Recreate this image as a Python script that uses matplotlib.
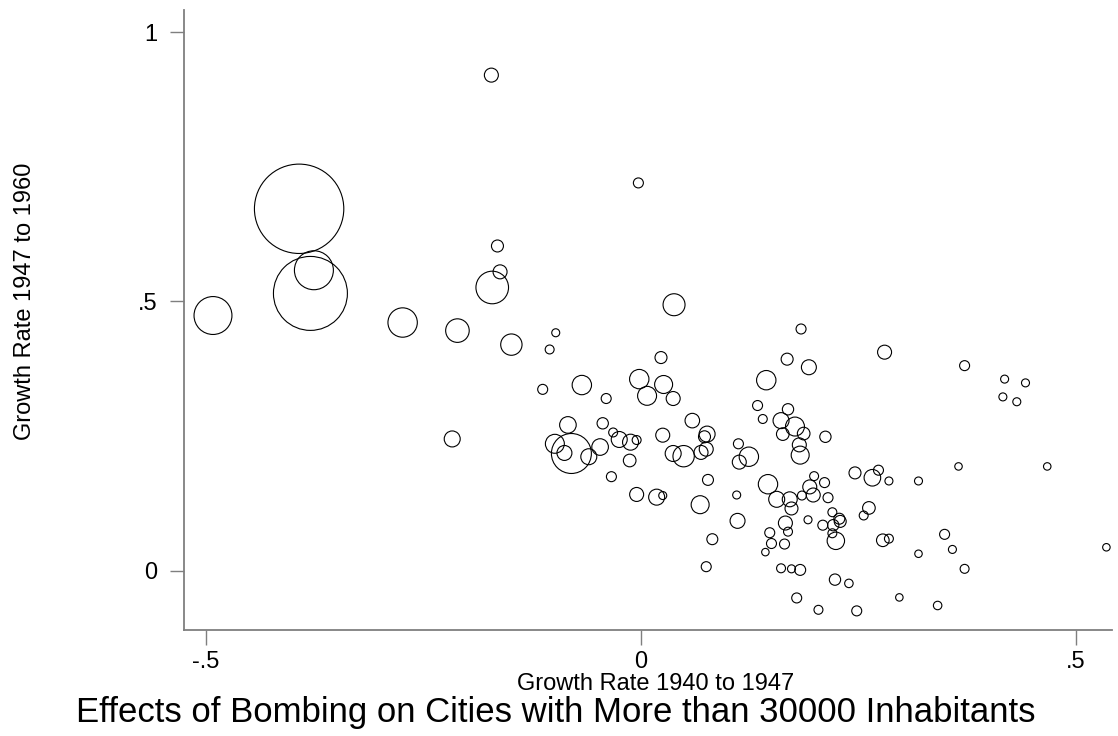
#!/usr/bin/env python3
"""
Bubble scatter of city growth rates, weighted by size.
"""
import matplotlib
matplotlib.use("Agg")
import matplotlib.pyplot as plt

# growth rate 1940-1947 (x), growth rate 1947-1960 (y), weight (bubble area)
growth_40_47 = [
    -0.172, -0.393, -0.376, -0.380, -0.492, -0.274, -0.211, -0.149, -0.098, -0.105,
    -0.165, -0.162, -0.171, -0.217, 0.038, -0.003, 0.184, 0.023, 0.168, 0.193,
    -0.113, -0.068, -0.040, -0.002, 0.026, 0.007, 0.037, 0.144, 0.134, 0.140,
    0.161, 0.169, 0.177, 0.163, 0.187, 0.182, 0.183, -0.084, -0.099, -0.080,
    -0.088, -0.060, -0.047, -0.044, -0.032, -0.025, -0.012, -0.005, -0.013, -0.034,
    0.025, 0.037, 0.049, 0.059, 0.076, 0.073, 0.075, 0.069, 0.112, 0.113,
    0.124, 0.077, 0.146, 0.199, 0.194, 0.110, -0.005, 0.018, 0.025, 0.068,
    0.156, 0.171, 0.173, 0.185, 0.198, 0.111, 0.082, 0.075, 0.166, 0.169,
    0.148, 0.150, 0.143, 0.165, 0.192, 0.161, 0.173, 0.183, 0.179, 0.204,
    0.280, 0.212, 0.211, 0.246, 0.266, 0.273, 0.285, 0.319, 0.215, 0.220,
    0.228, 0.229, 0.221, 0.209, 0.220, 0.224, 0.262, 0.256, 0.278, 0.285,
    0.319, 0.349, 0.223, 0.239, 0.248, 0.297, 0.341, 0.372, 0.418, 0.442,
    0.416, 0.432, 0.365, 0.467, 0.358, 0.372, 0.535,
]
growth_47_60 = [
    0.920, 0.672, 0.558, 0.515, 0.474, 0.461, 0.446, 0.420, 0.442, 0.411,
    0.603, 0.555, 0.526, 0.245, 0.494, 0.720, 0.449, 0.396, 0.393, 0.378,
    0.337, 0.345, 0.320, 0.356, 0.346, 0.325, 0.320, 0.354, 0.307, 0.282,
    0.279, 0.300, 0.268, 0.254, 0.255, 0.234, 0.215, 0.271, 0.236, 0.218,
    0.219, 0.212, 0.230, 0.274, 0.257, 0.244, 0.239, 0.243, 0.205, 0.175,
    0.252, 0.218, 0.213, 0.279, 0.254, 0.249, 0.226, 0.220, 0.236, 0.202,
    0.212, 0.169, 0.161, 0.176, 0.156, 0.141, 0.142, 0.137, 0.140, 0.123,
    0.133, 0.133, 0.116, 0.140, 0.141, 0.093, 0.059, 0.008, 0.089, 0.073,
    0.071, 0.051, 0.035, 0.050, 0.095, 0.005, 0.004, 0.002, -0.050, -0.072,
    0.406, 0.249, 0.164, 0.182, 0.173, 0.187, 0.167, 0.167, 0.136, 0.109,
    0.097, 0.092, 0.085, 0.085, 0.070, 0.056, 0.117, 0.103, 0.057, 0.060,
    0.032, 0.068, -0.016, -0.023, -0.074, -0.049, -0.064, 0.381, 0.356, 0.349,
    0.323, 0.314, 0.194, 0.194, 0.040, 0.004, 0.044,
]
weight = [
    49, 2000, 380, 1370, 360, 216, 139, 114, 16, 20,
    36, 49, 266, 64, 121, 25, 25, 36, 36, 56,
    25, 94, 25, 94, 81, 90, 49, 94, 25, 20,
    64, 32, 90, 40, 40, 49, 81, 69, 90, 400,
    56, 64, 69, 32, 20, 64, 64, 20, 40, 25,
    49, 64, 114, 53, 64, 36, 49, 49, 25, 49,
    94, 30, 94, 20, 49, 16, 49, 64, 16, 81,
    64, 56, 42, 20, 49, 56, 30, 25, 49, 20,
    25, 25, 14, 25, 16, 20, 16, 30, 25, 20,
    49, 32, 25, 36, 69, 25, 16, 16, 25, 20,
    30, 36, 32, 25, 20, 76, 40, 20, 40, 20,
    14, 25, 32, 18, 25, 14, 18, 25, 16, 16,
    16, 16, 14, 14, 16, 20, 14,
]

x_ticks = [-0.5, 0, 0.5]
x_tick_labels = ['-.5', '0', '.5']
y_ticks = [0, 0.5, 1]
y_tick_labels = ['0', '.5', '1']

fig = plt.figure(figsize=(11.18, 7.36), dpi=100)
ax = fig.add_axes([0.1646, 0.144, 0.83, 0.8424])

# bubble area proportional to weight
sizes = [w * 2.07 for w in weight]
ax.scatter(growth_40_47, growth_47_60, s=sizes, facecolors='none',
           edgecolors='black', linewidths=0.8)

ax.set_xlim(-0.5253, 0.5414)
ax.set_ylim(-0.1095, 1.0408)
ax.set_xticks(x_ticks)
ax.set_xticklabels(x_tick_labels)
ax.set_yticks(y_ticks)
ax.set_yticklabels(y_tick_labels)

for side in ['top', 'right']:
    ax.spines[side].set_visible(False)
for side in ['left', 'bottom']:
    ax.spines[side].set_color('#7f7f7f')
    ax.spines[side].set_linewidth(1.3)

ax.tick_params(direction='out', width=1.0, color='#7f7f7f', labelsize=17)
ax.tick_params(axis='x', length=11, pad=4)
ax.tick_params(axis='y', length=10, pad=9)
for lab in ax.get_xticklabels() + ax.get_yticklabels():
    lab.set_fontfamily('Liberation Sans')

fig.text(0.586, 0.071, 'Growth Rate 1940 to 1947', ha='center', va='center',
         fontsize=17, family='Liberation Sans')
fig.text(0.022, 0.59, 'Growth Rate 1947 to 1960', ha='center', va='center',
         rotation=90, fontsize=17, family='Liberation Sans')
fig.text(0.497, 0.032, 'Effects of Bombing on Cities with More than 30000 Inhabitants',
         ha='center', va='center', fontsize=25, family='Liberation Sans')

fig.savefig('out.png', dpi=100, facecolor='white')
